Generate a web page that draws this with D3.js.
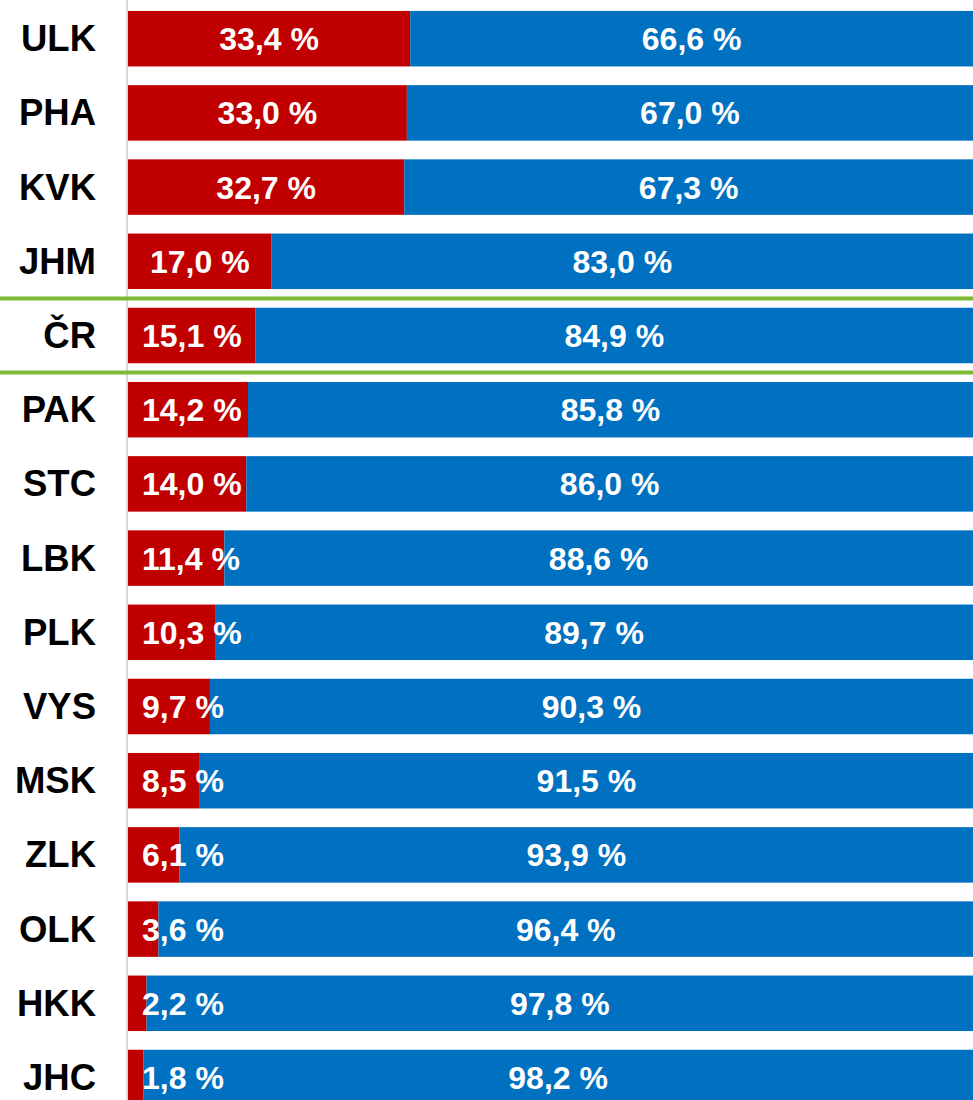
<!DOCTYPE html>
<html>
<head>
<meta charset="utf-8">
<script src="https://cdn.jsdelivr.net/npm/d3@7"></script>
<style>
  body { margin: 0; background: #fff; }
  svg { display: block; font-family: 'Liberation Sans', Arial, sans-serif; }
</style>
</head>
<body>
<svg class="chartSVG" width="973" height="1100"></svg>
<script>
const regions = ['ULK', 'PHA', 'KVK', 'JHM', 'ČR', 'PAK', 'STC', 'LBK', 'PLK', 'VYS', 'MSK', 'ZLK', 'OLK', 'HKK', 'JHC'];
const redVals = [33.4, 33.0, 32.7, 17.0, 15.1, 14.2, 14.0, 11.4, 10.3, 9.7, 8.5, 6.1, 3.6, 2.2, 1.8];
const blueVals = [66.6, 67.0, 67.3, 83.0, 84.9, 85.8, 86.0, 88.6, 89.7, 90.3, 91.5, 93.9, 96.4, 97.8, 98.2];

const redCol = '#c00000';
const blueCol = '#0070c0';
const greenCol = '#7db933';

const svg = d3.select('svg.chartSVG');
const width = 973;
const height = 1100;
const left = 128;

const rows = regions.map((r, i) => ({region: r, red: redVals[i], blue: blueVals[i]}));

const x = d3.scaleLinear()
    .domain([0, 100])
    .range([left, width]);

const y = d3.scaleBand()
    .domain(regions)
    .range([1.6, 1.6 + 15 * 74.2])
    .paddingInner(0.252)
    .paddingOuter(0.126);

const fmt = v => d3.format('.1f')(v).replace('.', ',') + ' %';

// bars
const barGrp = svg.append('g').attr('class', 'bars');

barGrp.selectAll('rect.red')
  .data(rows)
  .enter()
  .append('rect')
  .attr('class', 'red')
  .attr('x', x(0))
  .attr('y', d => y(d.region))
  .attr('width', d => x(d.red) - x(0))
  .attr('height', y.bandwidth())
  .style('fill', redCol);

barGrp.selectAll('rect.blue')
  .data(rows)
  .enter()
  .append('rect')
  .attr('class', 'blue')
  .attr('x', d => x(d.red))
  .attr('y', d => y(d.region))
  .attr('width', d => x(d.red + d.blue) - x(d.red))
  .attr('height', y.bandwidth())
  .style('fill', blueCol);

// vertical axis line
svg.append('line')
  .attr('x1', left - 1).attr('x2', left - 1)
  .attr('y1', 0).attr('y2', height)
  .style('stroke', '#d9d9d9')
  .style('stroke-width', 2);

// green separators around ČR
const crTop = y('ČR');
const gap = y.step() - y.bandwidth();
[crTop - gap / 2, crTop + y.bandwidth() + gap / 2].forEach(gy => {
  svg.append('line')
    .attr('x1', 0).attr('x2', width)
    .attr('y1', gy).attr('y2', gy)
    .style('stroke', greenCol)
    .style('stroke-width', 4);
});

// category labels
svg.append('g')
  .attr('class', 'catLabels')
  .selectAll('text')
  .data(rows)
  .enter()
  .append('text')
  .attr('x', 96)
  .attr('y', d => y(d.region) + y.bandwidth() / 2 + 12.5)
  .text(d => d.region)
  .style('text-anchor', 'end')
  .style('font-size', '36.5px')
  .style('font-weight', 'bold')
  .style('fill', '#000');

// value labels
const valGrp = svg.append('g').attr('class', 'valLabels');

valGrp.selectAll('text.blueLab')
  .data(rows)
  .enter()
  .append('text')
  .attr('class', 'blueLab')
  .attr('x', d => (x(d.red) + x(d.red + d.blue)) / 2)
  .attr('y', d => y(d.region) + y.bandwidth() / 2 + 11.5)
  .text(d => fmt(d.blue))
  .style('text-anchor', 'middle')
  .style('font-size', '32px')
  .style('font-weight', 'bold')
  .style('fill', '#fff');

valGrp.selectAll('text.redLab')
  .data(rows)
  .enter()
  .append('text')
  .attr('class', 'redLab')
  .attr('y', d => y(d.region) + y.bandwidth() / 2 + 11.5)
  .text(d => fmt(d.red))
  .style('text-anchor', 'start')
  .style('font-size', '32px')
  .style('font-weight', 'bold')
  .style('fill', '#fff')
  .attr('x', function(d) {
    const w = this.getComputedTextLength();
    const mid = (x(0) + x(d.red)) / 2;
    return Math.max(mid - w / 2, 142);
  });
</script>
</body>
</html>
